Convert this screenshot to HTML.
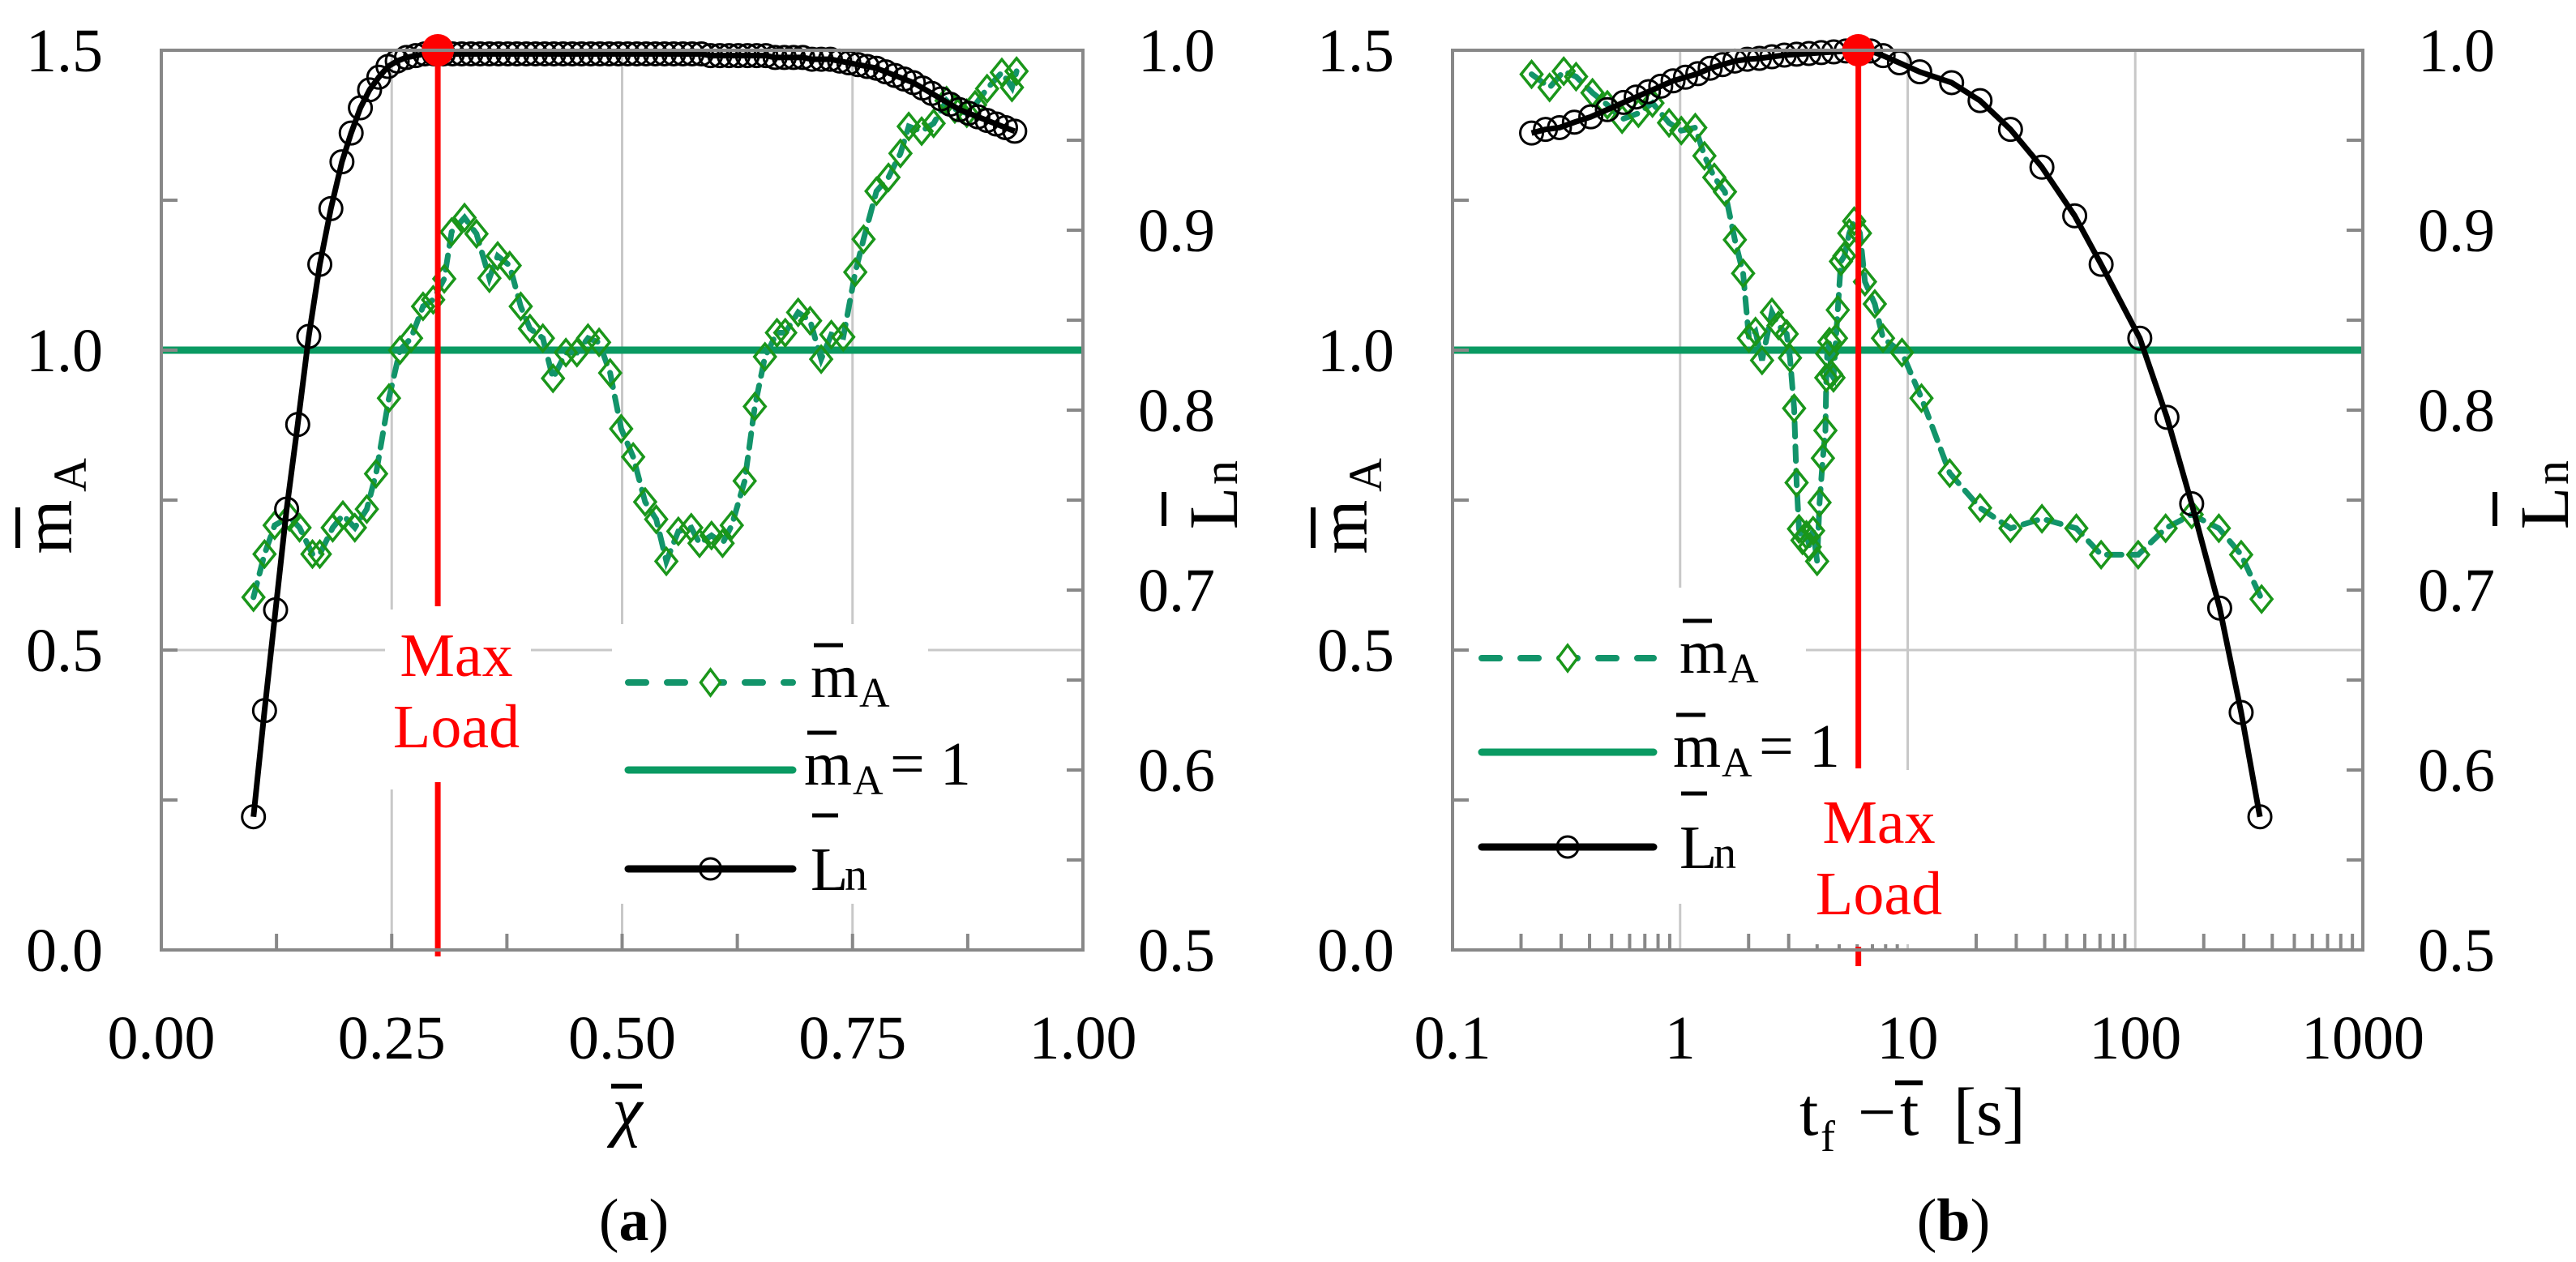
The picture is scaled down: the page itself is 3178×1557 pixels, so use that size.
<!DOCTYPE html>
<html><head><meta charset="utf-8">
<style>
html,body{margin:0;padding:0;background:#fff;}
svg{display:block;font-family:"Liberation Serif",serif;}
</style></head>
<body>
<svg id="chart" width="3178" height="1557" viewBox="0 0 3178 1557" xmlns="http://www.w3.org/2000/svg"></svg>
<script>
// ---- Panel (a) data ----
const aChiM = [0.100,0.112,0.123,0.139,0.150,0.164,0.172,0.186,0.197,0.210,0.223,0.233,0.247,0.259,0.271,0.284,0.295,0.307,0.315,0.329,0.342,0.356,0.365,0.378,0.390,0.400,0.414,0.425,0.439,0.451,0.463,0.475,0.487,0.499,0.512,0.525,0.537,0.548,0.561,0.575,0.584,0.597,0.609,0.619,0.633,0.644,0.655,0.668,0.677,0.691,0.704,0.716,0.727,0.740,0.753,0.762,0.776,0.789,0.802,0.811,0.825,0.838,0.852,0.861,0.874,0.883,0.896,0.912,0.923,0.928];
const aM = [0.588,0.660,0.708,0.722,0.704,0.660,0.660,0.704,0.725,0.704,0.735,0.794,0.920,1.000,1.020,1.073,1.084,1.119,1.197,1.221,1.194,1.120,1.157,1.141,1.073,1.036,1.020,0.953,0.996,0.996,1.020,1.013,0.962,0.869,0.822,0.747,0.718,0.648,0.698,0.704,0.678,0.691,0.678,0.708,0.782,0.906,0.989,1.029,1.029,1.063,1.049,0.985,1.026,1.022,1.130,1.185,1.265,1.288,1.328,1.373,1.365,1.378,1.416,1.402,1.395,1.409,1.436,1.463,1.438,1.465];
const aChiL = [0.100,0.112,0.124,0.136,0.148,0.160,0.172,0.184,0.196,0.206,0.216,0.226,0.236,0.246,0.256,0.266,0.276,0.286,0.296,0.306,0.316,0.326,0.336,0.346,0.356,0.366,0.376,0.386,0.396,0.406,0.416,0.426,0.436,0.446,0.456,0.466,0.476,0.486,0.496,0.506,0.516,0.526,0.536,0.546,0.556,0.566,0.576,0.586,0.596,0.606,0.616,0.626,0.636,0.646,0.656,0.666,0.676,0.686,0.696,0.706,0.716,0.726,0.736,0.746,0.756,0.766,0.776,0.786,0.796,0.806,0.816,0.826,0.836,0.846,0.856,0.866,0.876,0.886,0.896,0.906,0.916,0.926];
const aL = [0.574,0.633,0.689,0.745,0.792,0.841,0.881,0.912,0.938,0.954,0.968,0.978,0.985,0.991,0.994,0.996,0.997,0.998,0.998,0.998,0.998,0.998,0.998,0.998,0.998,0.998,0.998,0.998,0.998,0.998,0.998,0.998,0.998,0.998,0.998,0.998,0.998,0.998,0.998,0.998,0.998,0.998,0.998,0.998,0.998,0.998,0.998,0.998,0.997,0.997,0.997,0.997,0.997,0.997,0.997,0.996,0.996,0.996,0.996,0.995,0.995,0.995,0.994,0.993,0.992,0.991,0.990,0.988,0.986,0.984,0.982,0.979,0.976,0.973,0.970,0.967,0.965,0.963,0.961,0.959,0.957,0.955];
const aMaxLoad = 0.3;
const aXTicks = ["0.00","0.25","0.50","0.75","1.00"];
const leftTicks = ["0.0","0.5","1.0","1.5"];
const rightTicks = ["0.5","0.6","0.7","0.8","0.9","1.0"];
// ---- Panel (b) data ----
const bTM = [0.2225,0.267,0.308,0.349,0.412,0.479,0.556,0.656,0.756,0.894,1.012,1.166,1.279,1.413,1.574,1.740,1.892,2.006,2.144,2.291,2.532,2.706,2.940,3.04,3.17,3.25,3.33,3.45,3.59,3.71,3.84,4.00,4.10,4.24,4.35,4.39,4.43,4.53,4.61,4.72,4.84,4.93,5.09,5.27,5.54,5.82,6.17,6.49,7.17,7.79,9.44,11.5,15.3,20.8,28.3,38.9,55.1,70.8,103,136,177,233,292,359];
const bM = [1.460,1.438,1.465,1.456,1.429,1.409,1.385,1.395,1.412,1.379,1.366,1.371,1.324,1.288,1.264,1.184,1.128,1.020,1.031,0.983,1.063,1.041,1.027,0.987,0.903,0.779,0.702,0.683,0.692,0.672,0.699,0.648,0.746,0.820,0.866,0.954,0.994,1.014,0.960,0.954,1.020,1.067,1.148,1.157,1.195,1.215,1.195,1.114,1.077,1.020,0.996,0.920,0.795,0.737,0.703,0.719,0.703,0.659,0.659,0.703,0.726,0.703,0.659,0.585];
const bTL = [0.2225,0.256,0.295,0.343,0.405,0.479,0.565,0.641,0.726,0.822,0.931,1.056,1.196,1.355,1.535,1.74,1.97,2.23,2.53,2.87,3.25,3.68,4.17,4.73,5.36,6.07,6.87,7.80,9.2,11.3,15.6,20.8,28.3,38.9,54.2,70.8,104.7,137.8,177,235,292,353];
const bL = [0.954,0.956,0.957,0.960,0.963,0.967,0.971,0.974,0.977,0.980,0.983,0.985,0.987,0.990,0.992,0.994,0.995,0.9955,0.9964,0.9973,0.9978,0.9982,0.9987,0.9991,0.9996,1.0,0.9996,0.997,0.993,0.988,0.982,0.972,0.956,0.935,0.908,0.881,0.840,0.796,0.748,0.690,0.632,0.574];
const bMaxLoad = 6.07;
const bXTicks = ["0.1","1","10","100","1000"];
const bDecades = [0.1,1,10,100,1000];

const NS="http://www.w3.org/2000/svg";
const svg=document.getElementById('chart');
function mk(tag,attrs,parent){const e=document.createElementNS(NS,tag);for(const k in attrs)e.setAttribute(k,attrs[k]);(parent||svg).appendChild(e);return e;}
function txt(s,x,y,size,parent,anchor,fill){const t=mk('text',{x:x,y:y,'font-size':size,'text-anchor':anchor||'middle',fill:fill||'#000'},parent);t.textContent=s;return t;}

const TOP=62,BOT=1172;
const GREEN_LINE="#0a9a62", DIAM="#1a961a", DASH="#12946a";
const TF=76;

function panel(id,L,R){
  const g=mk('g',{});
  
  
  const yl=v=>BOT-(v/1.5)*(BOT-TOP);
  const yr=v=>BOT-((v-0.5)/0.5)*(BOT-TOP);
  const grid=mk('g',{},g);
  
  
  [0.5,1.0].forEach(v=>mk('line',{x1:L,x2:R,y1:yl(v),y2:yl(v),stroke:'#c8c8c8','stroke-width':3},grid));
  return {g,yl,yr,grid};
}
function frame(g,L,R){
  const f=mk('rect',{x:L,y:TOP,width:R-L,height:BOT-TOP,fill:'none',stroke:'#888','stroke-width':4},g);
  
  
}
function yAxes(p,L,R,titleLx,titleRx){
  const g=p.g;
  for(let v=0;v<=1.5001;v+=0.25){const y=p.yl(v);mk('line',{x1:L,x2:L+20,y1:y,y2:y,stroke:'#888','stroke-width':4},g);}
  leftTicks.forEach((s,i)=>{const t=txt(s,L-72,p.yl(i*0.5)+26,TF,g,'end');});
  for(let v=0.5;v<=1.0001;v+=0.05){const y=p.yr(v);mk('line',{x1:R-20,x2:R,y1:y,y2:y,stroke:'#888','stroke-width':4},g);}
  rightTicks.forEach((s,i)=>{const t=txt(s,R+68,p.yr(0.5+i*0.1)+26,TF,g,'start');});
  const lt=mk('g',{transform:`translate(${titleLx},620) rotate(-90)`},g);
  
  
  const t1=mk('text',{x:-30,y:26,'font-size':86,'text-anchor':'middle'},lt);t1.textContent='m';
  mk('line',{x1:-56,x2:-6,y1:-40,y2:-40,stroke:'#000','stroke-width':6},lt);
  const t2=mk('text',{x:34,y:44,'font-size':58,'text-anchor':'middle'},lt);t2.textContent='A';
  const rt=mk('g',{transform:`translate(${titleRx},615) rotate(-90)`},g);
  
  
  const t3=mk('text',{x:-12,y:26,'font-size':86,'text-anchor':'middle'},rt);t3.textContent='L';
  mk('line',{x1:-34,x2:8,y1:-64,y2:-64,stroke:'#000','stroke-width':6},rt);
  const t4=mk('text',{x:32,y:26,'font-size':60,'text-anchor':'middle'},rt);t4.textContent='n';
}
function diamond(g,x,y){return mk('polygon',{points:`${x},${y-16} ${x+13},${y} ${x},${y+16} ${x-13},${y}`,fill:'none',stroke:DIAM,'stroke-width':3.5},g);}
function series(p,L,R,xf,xm,ym,xl,yl){
  const g=p.g;
  const h=mk('line',{x1:L,x2:R,y1:p.yl(1),y2:p.yl(1),stroke:GREEN_LINE,'stroke-width':9},g);
  
  
  const mg=mk('g',{},g);
  
  
  mk('polyline',{points:xm.map((v,i)=>xf(v)+','+p.yl(ym[i])).join(' '),fill:'none',stroke:DASH,'stroke-width':7,'stroke-dasharray':'18 12','stroke-linecap':'round'},mg);
  xm.forEach((v,i)=>{const d=diamond(mg,xf(v),p.yl(ym[i]));});
  const lg=mk('g',{},g);
  
  
  mk('polyline',{points:xl.map((v,i)=>xf(v)+','+p.yr(yl[i])).join(' '),fill:'none',stroke:'#000','stroke-width':7,'stroke-linejoin':'round'},lg);
  xl.forEach((v,i)=>{const c=mk('circle',{cx:xf(v),cy:p.yr(yl[i]),r:14,fill:'none',stroke:'#000','stroke-width':3},lg);});
}
function maxLoad(g,x,gapTop,gapBot,tx,ty1,ty2,bottomEnd){
  const mg=mk('g',{},g);
  
  
  mk('line',{x1:x,x2:x,y1:TOP,y2:gapTop,stroke:'#f00','stroke-width':7},mg);
  mk('line',{x1:x,x2:x,y1:gapBot,y2:bottomEnd,stroke:'#f00','stroke-width':7},mg);
  txt('Max',tx,ty1,TF,mg,'middle','#f00');
  txt('Load',tx,ty2,TF,mg,'middle','#f00');
  const dot=mk('circle',{cx:x,cy:TOP,r:20,fill:'#f00'},mg);
  
  
}
function legend(g,lx1,lx2,tx,ys,bx,bw,by,bh){
  const lg=mk('g',{},g);
  
  
  mk('rect',{x:bx,y:by,width:bw,height:bh,fill:'#fff'},lg);
  const mid=(lx1+lx2)/2;
  const e1=mk('g',{},lg);
  mk('line',{x1:lx1,x2:lx2,y1:ys[0],y2:ys[0],stroke:DASH,'stroke-width':8,'stroke-dasharray':'22 26','stroke-linecap':'round'},e1);
  mk('polygon',{points:`${mid},${ys[0]-16} ${mid+12},${ys[0]} ${mid},${ys[0]+16} ${mid-12},${ys[0]}`,fill:'#fff',stroke:DIAM,'stroke-width':3.5},e1);
  txt('m',tx,ys[0]+18,TF,e1,'start');mk('line',{x1:tx+4,x2:tx+40,y1:ys[0]-46,y2:ys[0]-46,stroke:'#000','stroke-width':5},e1);
  txt('A',tx+60,ys[0]+30,52,e1,'start');
  const e2=mk('g',{},lg);
  mk('line',{x1:lx1,x2:lx2,y1:ys[1],y2:ys[1],stroke:GREEN_LINE,'stroke-width':9,'stroke-linecap':'round'},e2);
  txt('m',tx-8,ys[1]+18,TF,e2,'start');mk('line',{x1:tx-4,x2:tx+32,y1:ys[1]-46,y2:ys[1]-46,stroke:'#000','stroke-width':5},e2);
  txt('A',tx+52,ys[1]+30,52,e2,'start');
  txt('= 1',tx+98,ys[1]+18,TF,e2,'start');
  const e3=mk('g',{},lg);
  mk('line',{x1:lx1,x2:lx2,y1:ys[2],y2:ys[2],stroke:'#000','stroke-width':9,'stroke-linecap':'round'},e3);
  mk('circle',{cx:mid,cy:ys[2],r:13,fill:'none',stroke:'#000','stroke-width':3},e3);
  txt('L',tx,ys[2]+26,TF,e3,'start');mk('line',{x1:tx+2,x2:tx+34,y1:ys[2]-66,y2:ys[2]-66,stroke:'#000','stroke-width':5},e3);
  txt('n',tx+42,ys[2]+26,56,e3,'start');
}

// ================= Panel A =================
(function(){
  const L=199,R=1336;
  const xf=v=>L+v*(R-L);
  const p=panel('panel-a',L,R);
  [0.25,0.5,0.75].forEach(v=>mk('line',{x1:xf(v),x2:xf(v),y1:TOP,y2:BOT,stroke:'#c8c8c8','stroke-width':3},p.grid));
  for(let v=0.125;v<1;v+=0.125){mk('line',{x1:xf(v),x2:xf(v),y1:BOT-20,y2:BOT,stroke:'#888','stroke-width':4},p.g);}
  aXTicks.forEach((s,i)=>{const t=txt(s,xf(i*0.25),1306,TF,p.g);});
  const xt=mk('g',{},p.g);
  txt('χ',774,1398,84,xt).setAttribute('font-style','italic');
  mk('line',{x1:754,x2:792,y1:1340,y2:1340,stroke:'#000','stroke-width':6},xt);
  const pl=mk('text',{x:782,y:1530,'font-size':74,'text-anchor':'middle'},p.g);
  
  pl.innerHTML='(<tspan font-weight="bold">a</tspan>)';
  legend(p.g,775,978,1000,[842,950,1072],755,390,770,345);
  mk('rect',{x:475,y:752,width:180,height:222,fill:'#fff'},p.g);
  series(p,L,R,xf,aChiM,aM,aChiL,aL);
  maxLoad(p.g,xf(aMaxLoad),748,965,563,834,922,1180);
  frame(p.g,L,R);
  yAxes(p,L,R,62,1500);
})();
// ================= Panel B =================
(function(){
  const L=1792,R=2915;
  const dec=(R-L)/4;
  const xf=v=>L+(Math.log10(v)+1)*dec;
  const p=panel('panel-b',L,R);
  [1,10,100].forEach(v=>mk('line',{x1:xf(v),x2:xf(v),y1:TOP,y2:BOT,stroke:'#c8c8c8','stroke-width':3},p.grid));
  bDecades.slice(0,4).forEach(d=>{for(let k=2;k<=9;k++){const x=xf(d*k);mk('line',{x1:x,x2:x,y1:BOT-20,y2:BOT,stroke:'#888','stroke-width':4},p.g);}});
  bXTicks.forEach((s,i)=>{const t=txt(s,xf(bDecades[i]),1306,TF,p.g);});
  const xt=mk('g',{},p.g);
  txt('t',2220,1400,84,xt,'start');txt('f',2246,1420,54,xt,'start');
  txt('−',2292,1400,84,xt,'start');
  txt('t',2344,1400,84,xt,'start');mk('line',{x1:2338,x2:2372,y1:1336,y2:1336,stroke:'#000','stroke-width':6},xt);
  txt('[s]',2410,1400,84,xt,'start');
  const pl=mk('text',{x:2410,y:1530,'font-size':74,'text-anchor':'middle'},p.g);
  
  pl.innerHTML='(<tspan font-weight="bold">b</tspan>)';
  legend(p.g,1828,2040,2072,[812,928,1045],1808,420,725,390);
  series(p,L,R,xf,bTM,bM,bTL,bL);
  mk('rect',{x:2210,y:950,width:200,height:215,fill:'#fff'},p.g);
  maxLoad(p.g,xf(bMaxLoad),948,1168,2318,1040,1128,1192);
  frame(p.g,L,R);
  yAxes(p,L,R,1660,3142);
})();
</script>
</body></html>
